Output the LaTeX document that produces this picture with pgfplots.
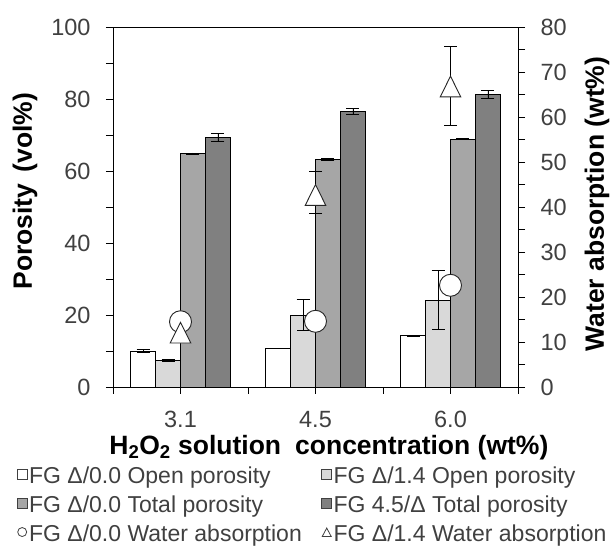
\documentclass[border=0pt]{standalone}
\usepackage{fontspec}
\setmainfont{Liberation Sans}
\usepackage{pgfplots}
\usepackage{pgfplotstable}
\pgfplotsset{compat=1.18}

\definecolor{cA}{HTML}{FFFFFF}
\definecolor{cB}{HTML}{D9D9D9}
\definecolor{cC}{HTML}{A6A6A6}
\definecolor{cD}{HTML}{808080}
\definecolor{txt}{HTML}{404040}

% Porosity (vol%) -- left axis
\pgfplotstableread{
x y e
1 10.0 0.3
2 10.8 0.0
3 14.2 0.2
}\openA
\pgfplotstableread{
x y e
1 7.4 0.2
2 19.9 4.3
3 24.1 8.2
}\openB
\pgfplotstableread{
x y e
1 64.8 0.2
2 63.1 0.3
3 68.8 0.15
}\totalA
\pgfplotstableread{
x y e
1 69.3 1.0
2 76.6 0.8
3 81.3 1.1
}\totalB
% Water absorption (wt%) -- right axis
\pgfplotstableread{
x y
1 14.5
2 14.6
3 22.6
}\waterA
\pgfplotstableread{
x y ep em
1 11.3 0.0 0.0
2 41.9 5.9 3.4
3 66.0 9.6 7.8
}\waterB

\pgfplotsset{
  commonax/.style={
    at={(0,0)}, anchor=south west,
    width=405pt, height=360pt, scale only axis,
    xmin=0.5, xmax=3.5,
    tick align=outside,
    major tick length=7pt, minor tick length=7pt,
    tick style={black, line width=0.8pt},
    axis line style={black, line width=0.8pt},
    /pgf/number format/assume math mode=true,
    ticklabel style={font=\fontsize{23.5}{25}\selectfont, text=txt},
    label style={font=\bfseries\fontsize{26.5}{28}\selectfont},
  },
  barerr/.style={error bars/.cd, y dir=both, y explicit,
    error bar style={black, line width=0.9pt},
    error mark options={rotate=90, black, mark size=6.5pt, line width=0.9pt}},
}

\begin{document}
\begin{tikzpicture}
\path[use as bounding box] (-113pt,-167pt) rectangle (498pt,387pt);
\begin{axis}[commonax,
  ymin=0, ymax=100,
  xtick={0.5,1,1.5,2,2.5,3,3.5},
  xticklabels={,3.1,,4.5,,6.0,},
  xticklabel style={yshift=-14pt},
  yticklabel style={xshift=-12pt},
  xtick pos=bottom, ytick pos=left,
  ytick={0,20,...,100}, minor ytick={10,30,50,70,90},
  xlabel={H\textsubscript{2}O\textsubscript{2} solution\hspace{0.25em} concentration (wt\%)},
  xlabel style={at={(axis description cs:0.533,0)}, anchor=base, yshift=-67pt},
  ylabel={Porosity\hspace{0.15em} (vol\%)},
  ylabel style={at={(axis description cs:-0.217,0.544)}, anchor=center},
  legend columns=2,
  legend cell align=left,
  legend style={at={(axis description cs:-0.238,-0.222)}, anchor=north west,
    draw=none, fill=none, inner sep=0pt, row sep=10.5pt,
    font=\fontsize{23}{25}\selectfont, text=txt,
    nodes={inner xsep=1.5pt, inner ysep=0pt},
    /tikz/every even column/.append style={column sep=18pt}},
]
\addplot[forget plot, ybar, bar width=0.185, bar shift=0, fill=cA, draw=black, line width=0.9pt, barerr]
  table[x expr=\thisrow{x}-0.2775, y=y, y error=e]{\openA};
\addplot[forget plot, ybar, bar width=0.185, bar shift=0, fill=cB, draw=black, line width=0.9pt, barerr]
  table[x expr=\thisrow{x}-0.0925, y=y, y error=e]{\openB};
\addplot[forget plot, ybar, bar width=0.185, bar shift=0, fill=cC, draw=black, line width=0.9pt, barerr]
  table[x expr=\thisrow{x}+0.0925, y=y, y error=e]{\totalA};
\addplot[forget plot, ybar, bar width=0.185, bar shift=0, fill=cD, draw=black, line width=0.9pt, barerr]
  table[x expr=\thisrow{x}+0.2775, y=y, y error=e]{\totalB};

\addlegendimage{legend image code/.code={\draw[draw=txt, fill=cA, line width=0.8pt] (0pt,-3.5pt) rectangle (10pt,6.5pt);}}
\addlegendentry{FG Δ/0.0 Open porosity}
\addlegendimage{legend image code/.code={\draw[draw=txt, fill=cB, line width=0.8pt] (0pt,-3.5pt) rectangle (10pt,6.5pt);}}
\addlegendentry{FG Δ/1.4 Open porosity}
\addlegendimage{legend image code/.code={\draw[draw=txt, fill=cC, line width=0.8pt] (0pt,-3.5pt) rectangle (10pt,6.5pt);}}
\addlegendentry{FG Δ/0.0 Total porosity}
\addlegendimage{legend image code/.code={\draw[draw=txt, fill=cD, line width=0.8pt] (0pt,-3.5pt) rectangle (10pt,6.5pt);}}
\addlegendentry{FG 4.5/Δ Total porosity}
\addlegendimage{legend image code/.code={\draw[draw=txt, fill=white, line width=0.8pt] (5pt,1.5pt) circle (4.5pt);}}
\addlegendentry{FG Δ/0.0 Water absorption}
\addlegendimage{legend image code/.code={\draw[draw=txt, fill=white, line width=0.8pt] (0.5pt,-3pt) -- (9.5pt,-3pt) -- (5pt,5.5pt) -- cycle;}}
\addlegendentry{FG Δ/1.4 Water absorption}
\end{axis}

\begin{axis}[commonax,
  ymin=0, ymax=80,
  axis x line=none, axis y line*=right,
  ytick={0,10,...,80}, minor ytick={5,15,...,75},
  yticklabel style={xshift=12pt},
  ylabel={Water absorption (wt\%)},
  ylabel style={at={(axis description cs:1.195,0.508)}, anchor=center},
]
\addplot[only marks, mark=*, mark size=11pt,
  mark options={fill=white, draw=black!85, line width=0.9pt}]
  table[x=x, y=y]{\waterA};
\addplot[only marks, mark=triangle*, mark size=13.8pt,
  mark options={xscale=0.86, fill=white, draw=black!85, line width=0.9pt},
  error bars/.cd, y dir=both, y explicit,
  error bar style={black, line width=0.9pt},
  error mark options={rotate=90, black, mark size=6.5pt, line width=0.9pt}]
  table[x=x, y=y, y error plus=ep, y error minus=em]{\waterB};
\end{axis}
\end{tikzpicture}
\end{document}
